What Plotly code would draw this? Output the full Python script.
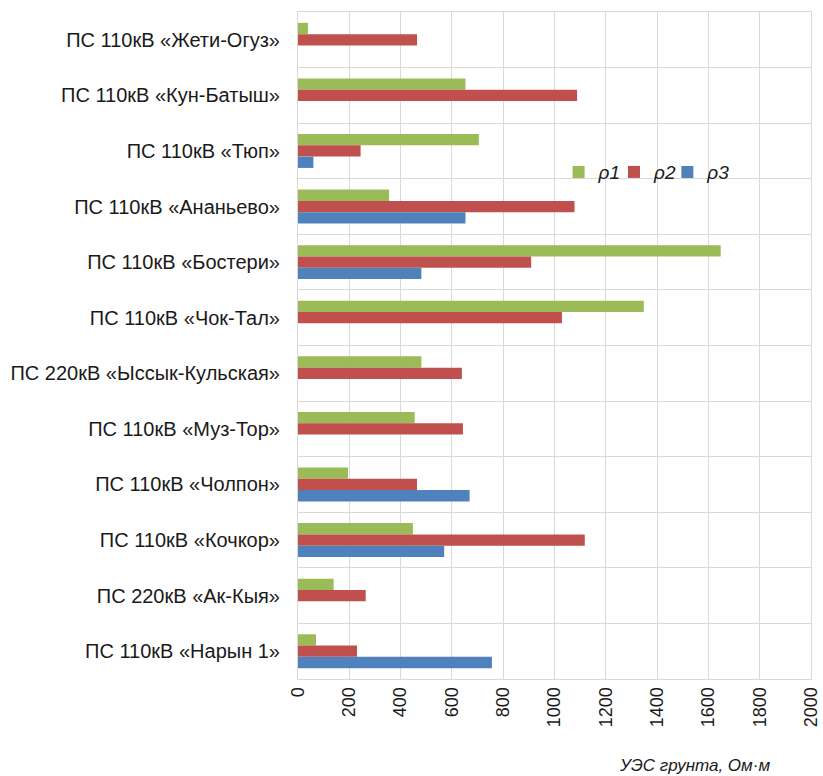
import plotly.graph_objects as go

categories = [
    "ПС 110кВ «Жети-Огуз»",
    "ПС 110кВ «Кун-Батыш»",
    "ПС 110кВ «Тюп»",
    "ПС 110кВ «Ананьево»",
    "ПС 110кВ «Бостери»",
    "ПС 110кВ «Чок-Тал»",
    "ПС 220кВ «Ыссык-Кульская»",
    "ПС 110кВ «Муз-Тор»",
    "ПС 110кВ «Чолпон»",
    "ПС 110кВ «Кочкор»",
    "ПС 220кВ «Ак-Кыя»",
    "ПС 110кВ «Нарын 1»",
]
rho1 = [39, 653, 705, 355, 1648, 1348, 481, 455, 195, 448, 139, 70]
rho2 = [464, 1088, 244, 1078, 909, 1029, 639, 643, 464, 1118, 264, 230]
rho3 = [None, None, 60, 653, 481, None, None, None, 669, 570, None, 756]
series_names = ["ρ1", "ρ2", "ρ3"]
colors = ["#9BBB59", "#C0504D", "#4F81BD"]
x_ticks = [0, 200, 400, 600, 800, 1000, 1200, 1400, 1600, 1800, 2000]
axis_title = "УЭС грунта, Ом·м"

font_family = "Liberation Sans, Arial, sans-serif"
legend_ids = ["legend", "legend2", "legend3"]
legend_x = [0.508, 0.616, 0.720]

fig = go.Figure()
for name, vals, col, lg in zip(series_names, [rho1, rho2, rho3], colors, legend_ids):
    fig.add_trace(go.Bar(
        y=categories, x=vals, name=name, orientation="h",
        marker=dict(color=col, line=dict(width=0)),
        legend=lg,
    ))

legend_style = dict(
    orientation="h", y=0.76, xanchor="left", yanchor="middle",
    font=dict(size=19, style="italic", family=font_family),
    bgcolor="rgba(0,0,0,0)", itemwidth=30,
)

fig.update_layout(
    width=823, height=776,
    margin=dict(l=298, r=12, t=12, b=97),
    paper_bgcolor="white", plot_bgcolor="white",
    barmode="group", bargap=0.39, bargroupgap=0,
    font=dict(family=font_family, size=18, color="#1a1a1a"),
    showlegend=True,
    legend=dict(x=legend_x[0], **legend_style),
    legend2=dict(x=legend_x[1], **legend_style),
    legend3=dict(x=legend_x[2], **legend_style),
    xaxis=dict(
        range=[0, 2000], tickvals=x_ticks, tickangle=-90,
        showgrid=True, gridcolor="#d9d9d9", gridwidth=1,
        showline=True, linecolor="#d9d9d9", mirror=True,
        zeroline=False, ticks="", tickfont=dict(size=18),
        automargin=False,
    ),
    yaxis=dict(
        type="category", categoryorder="array", categoryarray=categories,
        autorange="reversed", tickson="boundaries",
        showgrid=True, gridcolor="#d9d9d9", gridwidth=1,
        showline=True, linecolor="#d9d9d9", mirror=True,
        ticks="", ticklabelstandoff=13, tickfont=dict(size=20),
        automargin=False,
    ),
    annotations=[dict(
        text=axis_title, xref="paper", yref="paper",
        x=0.924, y=-0.129, xanchor="right", yanchor="middle",
        showarrow=False, font=dict(size=17, style="italic", family=font_family),
    )],
)

fig.write_html(
    "out.html",
    config={"displayModeBar": False},
    post_script="document.body.style.margin='0';document.body.style.padding='0';",
)
